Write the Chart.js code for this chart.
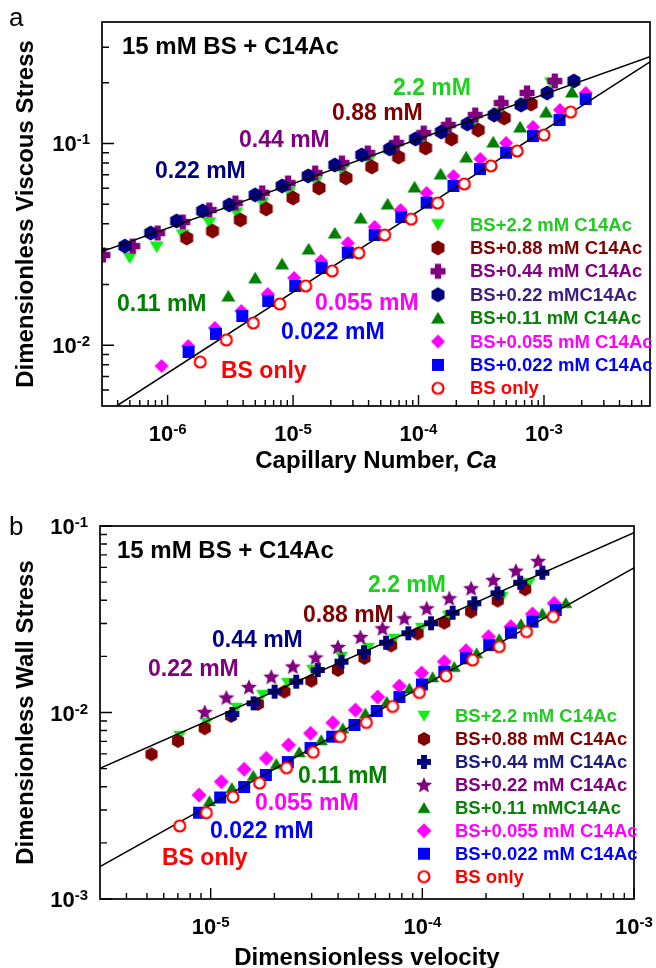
<!DOCTYPE html>
<html><head><meta charset="utf-8">
<script src="https://cdn.jsdelivr.net/npm/chart.js@4.4.1/dist/chart.umd.min.js"></script>
<style>
html,body{margin:0;padding:0;background:#fff;width:656px;height:968px;overflow:hidden}
canvas{position:absolute;left:0}
#ca{top:0}#cb{top:484px}
</style></head><body>
<canvas id="ca" width="656" height="484" style="width:656px;height:484px"></canvas>
<canvas id="cb" width="656" height="484" style="width:656px;height:484px"></canvas>
<script>
// ---------------- Panel a : Dimensionless viscous stress vs capillary number ----------------
const aLabels = ['BS+2.2 mM C14Ac','BS+0.88 mM C14Ac','BS+0.44 mM C14Ac','BS+0.22 mMC14Ac','BS+0.11 mM C14Ac','BS+0.055 mM C14Ac','BS+0.022 mM C14Ac','BS only'];
const aCa_2_2   = [4.99e-7,8.18e-7,1.32e-6,2.15e-6,3.53e-6,5.68e-6,9.29e-6,1.52e-5,2.45e-5,4.01e-5,6.45e-5,1.04e-4,1.67e-4,2.73e-4,4.31e-4,7.07e-4,1.14e-3];
const aSt_2_2   = [0.0271,0.0307,0.0352,0.0404,0.0453,0.0507,0.0575,0.0645,0.0731,0.0819,0.0918,0.1017,0.1127,0.1249,0.1416,0.1587,0.200];
const aCa_0_88  = [1.42e-6,2.28e-6,3.80e-6,6.11e-6,1.00e-5,1.61e-5,2.64e-5,4.24e-5,6.93e-5,1.14e-4,1.83e-4,2.99e-4,4.82e-4,7.89e-4];
const aSt_0_88  = [0.0340,0.0368,0.0418,0.0474,0.0537,0.0602,0.0675,0.0765,0.0857,0.0950,0.1053,0.1166,0.1338,0.1569];
const aCa_0_44  = [3.05e-7,5.27e-7,8.33e-7,1.32e-6,2.15e-6,3.47e-6,5.68e-6,9.13e-6,1.50e-5,2.45e-5,3.94e-5,6.68e-5,1.10e-4,1.73e-4,2.83e-4,4.56e-4,7.33e-4,1.22e-3];
const aSt_0_44  = [0.0280,0.0310,0.0360,0.0408,0.0468,0.0507,0.0569,0.0637,0.0714,0.0800,0.0897,0.1006,0.1127,0.1235,0.1384,0.1587,0.178,0.204];
const aCa_0_22  = [4.56e-7,7.33e-7,1.18e-6,1.90e-6,3.10e-6,4.99e-6,8.18e-6,1.32e-5,2.15e-5,3.53e-5,5.89e-5,9.46e-5,1.52e-4,2.45e-4,4.01e-4,6.56e-4,1.06e-3,1.73e-3];
const aSt_0_22  = [0.0310,0.0360,0.0413,0.0463,0.0496,0.0556,0.0616,0.0690,0.0782,0.0877,0.0940,0.1053,0.1140,0.1249,0.1384,0.1551,0.178,0.204];
const aCa_0_11  = [3.05e-6,4.99e-6,8.18e-6,1.33e-5,2.15e-5,3.46e-5,5.67e-5,9.29e-5,1.50e-4,2.40e-4,3.94e-4,6.45e-4,1.04e-3,1.67e-3];
const aSt_0_11  = [0.01755,0.02156,0.0253,0.0300,0.0360,0.0427,0.0501,0.0609,0.0706,0.0857,0.1017,0.1207,0.1432,0.180];
const aCa_0_055 = [8.96e-7,1.46e-6,2.38e-6,3.87e-6,6.28e-6,1.02e-5,1.67e-5,2.73e-5,4.47e-5,7.20e-5,1.16e-4,1.90e-4,3.11e-4,4.99e-4,8.18e-4,1.34e-3,2.15e-3];
const aSt_0_055 = [0.00789,0.00992,0.01218,0.01479,0.01796,0.02156,0.02617,0.0321,0.0386,0.0468,0.0569,0.0690,0.0838,0.1006,0.1207,0.1466,0.178];
const aCa_0_022 = [1.47e-6,2.43e-6,3.94e-6,6.34e-6,1.04e-5,1.69e-5,2.73e-5,4.47e-5,7.29e-5,1.16e-4,1.90e-4,3.09e-4,4.99e-4,8.18e-4,1.33e-3,2.15e-3];
const aSt_0_022 = [0.00926,0.01138,0.01397,0.01658,0.01967,0.02415,0.02877,0.0352,0.0432,0.0509,0.0616,0.0747,0.0900,0.1089,0.1308,0.1662];
const aCa_BS    = [1.82e-6,2.94e-6,4.82e-6,7.84e-6,1.26e-5,2.05e-5,3.34e-5,5.37e-5,8.75e-5,1.42e-4,2.32e-4,3.78e-4,6.11e-4,1.00e-3,1.63e-3];
const aSt_BS    = [0.00826,0.01062,0.01290,0.01602,0.01967,0.02335,0.02867,0.0352,0.0422,0.0507,0.0630,0.0774,0.0918,0.1102,0.1432];
const aFitUpX = [3e-7, 7e-3], aFitUpY = [0.0291, 0.269];
const aFitLoX = [3.92e-7, 7e-3], aFitLoY = [0.005, 0.254];
const aXTicks = [1e-6,1e-5,1e-4,1e-3], aXTickExp = ['-6','-5','-4','-3'];
const aYTicks = [1e-2,1e-1], aYTickExp = ['-2','-1'];

// ---------------- Panel b : Dimensionless wall stress vs dimensionless velocity ----------------
const bLabels = ['BS+2.2 mM C14Ac','BS+0.88 mM C14Ac','BS+0.44 mM C14Ac','BS+0.22 mM C14Ac','BS+0.11 mMC14Ac','BS+0.055 mM C14Ac','BS+0.022 mM C14Ac','BS only'];
const bV_2_2   = [7.14e-6,9.57e-6,1.326e-5,1.759e-5,2.307e-5,3.028e-5,4.15e-5,5.56e-5,7.38e-5,9.89e-5,1.326e-4,1.778e-4,2.384e-4,3.197e-4];
const bW_2_2   = [0.00748,0.00878,0.01057,0.01241,0.01439,0.01690,0.01984,0.02217,0.02479,0.02839,0.03292,0.03724,0.04162,0.04947];
const bV_0_88  = [5.25e-6,7.01e-6,9.37e-6,1.25e-5,1.67e-5,2.23e-5,2.99e-5,3.99e-5,5.33e-5,7.12e-5,9.50e-5,1.27e-4,1.70e-4,2.27e-4,3.06e-4];
const bW_0_88  = [0.00597,0.00703,0.00823,0.00958,0.01111,0.01293,0.01481,0.01690,0.01960,0.02287,0.02652,0.03030,0.03472,0.03977,0.04577];
const bV_0_44  = [1.266e-5,1.595e-5,2.004e-5,2.536e-5,3.207e-5,4.15e-5,5.30e-5,6.74e-5,8.59e-5,1.099e-4,1.390e-4,1.759e-4,2.265e-4,2.90e-4,3.69e-4];
const bW_0_44  = [0.00982,0.01120,0.01293,0.01463,0.01690,0.01873,0.02106,0.02367,0.02659,0.03008,0.03428,0.03850,0.04356,0.04966,0.05618];
const bV_0_22  = [9.37e-6,1.186e-5,1.516e-5,1.933e-5,2.444e-5,3.128e-5,3.99e-5,5.10e-5,6.48e-5,8.22e-5,1.048e-4,1.341e-4,1.70e-4,2.163e-4,2.767e-4,3.526e-4];
const bW_0_22  = [0.01006,0.01203,0.01370,0.01556,0.01765,0.01972,0.02245,0.02540,0.02828,0.03200,0.03620,0.04096,0.04634,0.05134,0.05758,0.06491];
const bV_0_11  = [9.86e-6,1.259e-5,1.590e-5,2.041e-5,2.621e-5,3.328e-5,4.21e-5,5.38e-5,6.79e-5,8.68e-5,1.118e-4,1.416e-4,1.804e-4,2.308e-4,2.922e-4,3.69e-4,4.76e-4];
const bW_0_11  = [0.003355,0.003946,0.004594,0.005315,0.006141,0.007122,0.008228,0.009901,0.01143,0.01348,0.01550,0.01761,0.02084,0.02479,0.02982,0.03403,0.03879];
const bV_0_055 = [8.81e-6,1.123e-5,1.439e-5,1.831e-5,2.333e-5,2.963e-5,3.775e-5,4.83e-5,6.15e-5,7.79e-5,9.92e-5,1.27e-4,1.607e-4,2.055e-4,2.62e-4,3.314e-4,4.195e-4];
const bW_0_055 = [0.003611,0.004255,0.004959,0.005680,0.006696,0.007735,0.008817,0.01031,0.01211,0.01387,0.01629,0.01873,0.02145,0.02550,0.02885,0.03375,0.03850];
const bV_0_022 = [8.81e-6,1.109e-5,1.439e-5,1.823e-5,2.315e-5,2.963e-5,3.75e-5,4.78e-5,6.09e-5,7.79e-5,9.95e-5,1.27e-4,1.607e-4,2.07e-4,2.62e-4,3.314e-4,4.27e-4];
const bW_0_022 = [0.002902,0.003502,0.003985,0.004623,0.005427,0.006450,0.007419,0.008570,0.01019,0.01211,0.01413,0.01655,0.01953,0.02301,0.02680,0.03069,0.03545];
const bV_BS    = [7.14e-6,9.54e-6,1.274e-5,1.703e-5,2.283e-5,3.051e-5,4.09e-5,5.44e-5,7.24e-5,9.68e-5,1.294e-4,1.727e-4,2.308e-4,3.105e-4,4.15e-4];
const bW_BS    = [0.002463,0.002902,0.003524,0.004188,0.005052,0.006125,0.007419,0.008841,0.01077,0.01280,0.01570,0.01912,0.02254,0.02713,0.03264];
const bFitUpX = [3e-6, 1e-3], bFitUpY = [0.00502, 0.092];
const bFitLoX = [3e-6, 1e-3], bFitLoY = [0.00149, 0.0597];
const bXTicks = [1e-5,1e-4,1e-3], bXTickExp = ['-5','-4','-3'];
const bYTicks = [1e-3,1e-2,1e-1], bYTickExp = ['-3','-2','-1'];

// ---------------- styling ----------------
const FONT = '"Liberation Sans", Arial, Helvetica, sans-serif';
const COL = {g22:'#12ee12', m88:'#800000', p44:'#800080', n22:'#000080', g11:'#008000', mag:'#ff00ff', blu:'#0000ff', red:'#ff0000'};

function mk(shape, color, s) {
  let w = Math.ceil(s) + 4; if (w % 2) w++;
  const c = document.createElement('canvas'); c.width = w; c.height = w;
  const g = c.getContext('2d');
  const cx = w/2, cy = w/2, r = s/2;
  g.fillStyle = color; g.strokeStyle = color; g.beginPath();
  if (shape === 'hex') {
    for (let i=0;i<6;i++){const a=-Math.PI/2+i*Math.PI/3;const px=cx+r*Math.cos(a),py=cy+r*Math.sin(a);i?g.lineTo(px,py):g.moveTo(px,py);}
    g.closePath(); g.fill();
  } else if (shape === 'plus') {
    const t = s*0.21; g.rect(cx-t, cy-r, 2*t, s); g.rect(cx-r, cy-t, s, 2*t); g.fill();
  } else if (shape === 'star') {
    for (let i=0;i<10;i++){const a=-Math.PI/2+i*Math.PI/5;const rr=i%2?r*0.45:r;const px=cx+rr*Math.cos(a),py=cy+rr*Math.sin(a)+r*0.08;i?g.lineTo(px,py):g.moveTo(px,py);}
    g.closePath(); g.fill();
  } else if (shape === 'down') {
    g.moveTo(cx-r, cy-r*0.8); g.lineTo(cx+r, cy-r*0.8); g.lineTo(cx, cy+r*0.9); g.closePath(); g.fill();
  } else if (shape === 'up') {
    g.moveTo(cx-r, cy+r*0.8); g.lineTo(cx+r, cy+r*0.8); g.lineTo(cx, cy-r*0.9); g.closePath(); g.fill();
  } else if (shape === 'diamond') {
    g.moveTo(cx, cy-r); g.lineTo(cx+r, cy); g.lineTo(cx, cy+r); g.lineTo(cx-r, cy); g.closePath(); g.fill();
  } else if (shape === 'square') {
    g.rect(cx-r, cy-r, s, s); g.fill();
  } else if (shape === 'circle') {
    g.arc(cx, cy, r-1, 0, Math.PI*2); g.fillStyle = '#fff'; g.fill(); g.lineWidth = 2.2; g.stroke();
  }
  return c;
}

function pts(xs, ys) { return xs.map((x,i)=>({x:x, y:ys[i]})); }

function seriesSet(defs) {
  const n = defs.length;
  return defs.map((d,i)=>({
    label: d.label, data: pts(d.x, d.y), pointStyle: d.marker, pointRadius: 5,
    showLine: false, order: (i === n-1) ? 0 : (n - i), textColor: d.textColor
  }));
}
function fitSet(xa, ya) {
  return {label:'fit', data: pts(xa, ya), type:'line', showLine:true, borderColor:'#000', borderWidth:1.5, pointRadius:0, order:1, fill:false};
}

function supLabel(ctx, exp, x, y, align) {
  ctx.textAlign='left'; ctx.textBaseline='alphabetic';
  ctx.font = 'bold 22px '+FONT; const wb = ctx.measureText('10').width;
  ctx.font = 'bold 15px '+FONT; const we = ctx.measureText(exp).width;
  const tot = wb + we;
  const x0 = align === 'right' ? x - tot : x - tot/2;
  ctx.font = 'bold 22px '+FONT; ctx.fillText('10', x0, y);
  ctx.font = 'bold 15px '+FONT; ctx.fillText(exp, x0 + wb, y - 7);
}

function minorTicks(lo, hi) {
  const out = [];
  for (let e = Math.floor(Math.log10(lo)); e <= Math.ceil(Math.log10(hi)); e++) {
    for (let m = 2; m <= 9; m++) { const v = m * Math.pow(10, e); if (v > lo*1.0001 && v < hi*0.9999) out.push(v); }
  }
  return out;
}

const deco = {
  id: 'deco',
  afterDatasetsDraw(chart, args, o) {
    const ctx = chart.ctx, ca = chart.chartArea, xs = chart.scales.x, ys = chart.scales.y, oy = o.oy;
    ctx.save();
    ctx.strokeStyle = '#000'; ctx.lineWidth = 1.4; ctx.beginPath();
    for (const v of minorTicks(xs.min, xs.max)) { const p = xs.getPixelForValue(v); ctx.moveTo(p, ca.bottom); ctx.lineTo(p, ca.bottom-6); }
    for (const v of o.xMajor) { const p = xs.getPixelForValue(v); ctx.moveTo(p, ca.bottom); ctx.lineTo(p, ca.bottom-11); }
    for (const v of minorTicks(ys.min, ys.max)) { const p = ys.getPixelForValue(v); ctx.moveTo(ca.left, p); ctx.lineTo(ca.left+7, p); }
    for (const v of o.yMajor) { const p = ys.getPixelForValue(v); ctx.moveTo(ca.left, p); ctx.lineTo(ca.left+12, p); }
    ctx.stroke();
    ctx.lineWidth = 1.7;
    ctx.strokeRect(ca.left, ca.top, ca.right-ca.left, ca.bottom-ca.top);
    ctx.fillStyle = '#000';
    o.xMajor.forEach((v,i)=> supLabel(ctx, o.xExp[i], xs.getPixelForValue(v), ca.bottom + 35, 'center'));
    o.yMajor.forEach((v,i)=> supLabel(ctx, o.yExp[i], ca.left - 12, ys.getPixelForValue(v) + 8, 'right'));
    ctx.textBaseline = 'alphabetic'; ctx.textAlign = 'left';
    let tw = 0;
    o.xTitle.parts.forEach(p => { ctx.font = (p[1] ? 'italic ' : '') + 'bold 24px ' + FONT; tw += ctx.measureText(p[0]).width; });
    let tx = (ca.left + ca.right)/2 - tw/2;
    o.xTitle.parts.forEach(p => { ctx.font = (p[1] ? 'italic ' : '') + 'bold 24px ' + FONT; ctx.fillText(p[0], tx, o.xTitle.y - oy); tx += ctx.measureText(p[0]).width; });
    ctx.save();
    ctx.translate(o.yTitle.x, (ca.top + ca.bottom)/2);
    ctx.rotate(-Math.PI/2);
    ctx.textAlign = 'center'; ctx.font = 'bold 24px ' + FONT;
    ctx.fillText(o.yTitle.text, 0, 0);
    ctx.restore();
    ctx.textAlign = 'left'; ctx.font = '26px ' + FONT;
    ctx.fillText(o.letter.text, o.letter.x, o.letter.y - oy);
    ctx.font = 'bold 24px ' + FONT;
    ctx.fillText(o.header.text, o.header.x, o.header.y - oy);
    ctx.font = 'bold 23px ' + FONT;
    o.notes.forEach(n => { ctx.fillStyle = n.color; ctx.fillText(n.text, n.x, n.y - oy); });
    const lg = o.legend;
    const items = chart.data.datasets.filter(d => d.label !== 'fit');
    ctx.font = 'bold 18.5px ' + FONT; ctx.textBaseline = 'middle';
    items.forEach((d, i) => {
      const yy = lg.y0 + i*lg.dy - oy;
      const im = d.pointStyle;
      ctx.drawImage(im, lg.mx - im.width/2, yy - im.height/2);
      ctx.fillStyle = d.textColor;
      ctx.fillText(d.label, lg.tx, yy + 1);
    });
    ctx.restore();
  }
};

function makeChart(id, cfg) {
  return new Chart(document.getElementById(id), {
    type: 'scatter',
    data: { datasets: cfg.datasets },
    options: {
      responsive: false, animation: false, devicePixelRatio: 1, events: [],
      layout: { padding: cfg.padding },
      scales: {
        x: { type: 'logarithmic', min: cfg.xr[0], max: cfg.xr[1], display: false },
        y: { type: 'logarithmic', min: cfg.yr[0], max: cfg.yr[1], display: false }
      },
      plugins: { legend: { display: false }, tooltip: { enabled: false }, deco: cfg.deco }
    },
    plugins: [deco]
  });
}

const aSeries = seriesSet([
  {label:aLabels[0], x:aCa_2_2,   y:aSt_2_2,   marker:mk('down',COL.g22,14),   textColor:'#20cc20'},
  {label:aLabels[1], x:aCa_0_88,  y:aSt_0_88,  marker:mk('hex',COL.m88,15),    textColor:'#800000'},
  {label:aLabels[2], x:aCa_0_44,  y:aSt_0_44,  marker:mk('plus',COL.p44,15),   textColor:'#800080'},
  {label:aLabels[3], x:aCa_0_22,  y:aSt_0_22,  marker:mk('hex',COL.n22,15),    textColor:'#3a1e82'},
  {label:aLabels[4], x:aCa_0_11,  y:aSt_0_11,  marker:mk('up',COL.g11,14),     textColor:'#0a800a'},
  {label:aLabels[5], x:aCa_0_055, y:aSt_0_055, marker:mk('diamond',COL.mag,14),textColor:'#ff00ff'},
  {label:aLabels[6], x:aCa_0_022, y:aSt_0_022, marker:mk('square',COL.blu,12), textColor:'#0000ff'},
  {label:aLabels[7], x:aCa_BS,    y:aSt_BS,    marker:mk('circle',COL.red,13), textColor:'#ff0000'}
]);
makeChart('ca', {
  datasets: [...aSeries, fitSet(aFitUpX, aFitUpY), fitSet(aFitLoX, aFitLoY)],
  padding: {left:102, top:22, right:3, bottom:78},
  xr: [3e-7, 7e-3], yr: [0.005, 0.4],
  deco: {
    oy: 0,
    xMajor: aXTicks, xExp: aXTickExp, yMajor: aYTicks, yExp: aYTickExp,
    xTitle: {parts: [['Capillary Number, ', false], ['Ca', true]], y: 468},
    yTitle: {text: 'Dimensionless Viscous Stress', x: 33},
    letter: {text: 'a', x: 9, y: 26},
    header: {text: '15 mM BS + C14Ac', x: 122, y: 54},
    notes: [
      {text:'0.22 mM', x:155, y:178, color:'#000080'},
      {text:'0.44 mM', x:239, y:146.5, color:'#800080'},
      {text:'0.88 mM', x:332, y:120, color:'#800000'},
      {text:'2.2 mM', x:393, y:95, color:'#1fd01f'},
      {text:'0.11 mM', x:117, y:310.5, color:'#008000'},
      {text:'0.055 mM', x:315, y:310, color:'#ff00ff'},
      {text:'0.022 mM', x:281, y:339, color:'#0000ff'},
      {text:'BS only', x:221, y:378, color:'#ff0000'}
    ],
    legend: {mx: 438, tx: 470, y0: 224.5, dy: 23.4}
  }
});

const bSeries = seriesSet([
  {label:bLabels[0], x:bV_2_2,   y:bW_2_2,   marker:mk('down',COL.g22,13),   textColor:'#20cc20'},
  {label:bLabels[1], x:bV_0_88,  y:bW_0_88,  marker:mk('hex',COL.m88,14),    textColor:'#800000'},
  {label:bLabels[2], x:bV_0_44,  y:bW_0_44,  marker:mk('plus',COL.n22,14),   textColor:'#1a1a80'},
  {label:bLabels[3], x:bV_0_22,  y:bW_0_22,  marker:mk('star',COL.p44,17),   textColor:'#800080'},
  {label:bLabels[4], x:bV_0_11,  y:bW_0_11,  marker:mk('up',COL.g11,13),     textColor:'#0a800a'},
  {label:bLabels[5], x:bV_0_055, y:bW_0_055, marker:mk('diamond',COL.mag,15),textColor:'#ff00ff'},
  {label:bLabels[6], x:bV_0_022, y:bW_0_022, marker:mk('square',COL.blu,12), textColor:'#0000ff'},
  {label:bLabels[7], x:bV_BS,    y:bW_BS,    marker:mk('circle',COL.red,13), textColor:'#ff0000'}
]);
makeChart('cb', {
  datasets: [...bSeries, fitSet(bFitUpX, bFitUpY), fitSet(bFitLoX, bFitLoY)],
  padding: {left:100, top:42, right:22, bottom:69},
  xr: [3e-6, 1e-3], yr: [1e-3, 1e-1],
  deco: {
    oy: 484,
    xMajor: bXTicks, xExp: bXTickExp, yMajor: bYTicks, yExp: bYTickExp,
    xTitle: {parts: [['Dimensionless velocity', false]], y: 965},
    yTitle: {text: 'Dimensionless Wall Stress', x: 33},
    letter: {text: 'b', x: 9, y: 535},
    header: {text: '15 mM BS + C14Ac', x: 117, y: 558},
    notes: [
      {text:'0.22 mM', x:148, y:676, color:'#800080'},
      {text:'0.44 mM', x:212, y:647, color:'#000080'},
      {text:'0.88 mM', x:303, y:621.5, color:'#800000'},
      {text:'2.2 mM', x:368, y:591.5, color:'#1fd01f'},
      {text:'0.11 mM', x:298, y:782.5, color:'#008000'},
      {text:'0.055 mM', x:255, y:810, color:'#ff00ff'},
      {text:'0.022 mM', x:210, y:838, color:'#0000ff'},
      {text:'BS only', x:162, y:865, color:'#ff0000'}
    ],
    legend: {mx: 424, tx: 455, y0: 716, dy: 22.95}
  }
});
</script>
</body></html>
